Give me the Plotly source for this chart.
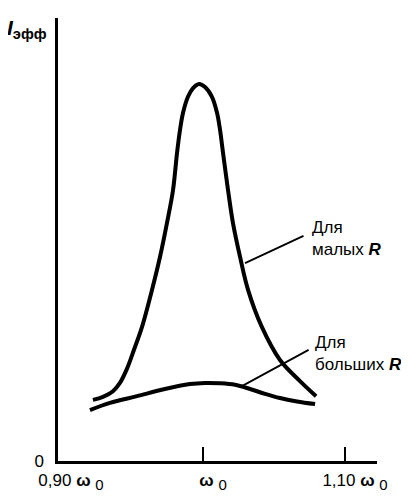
import plotly.graph_objects as go

# Data (omega / omega0, relative effective current)
x_small_R = [0.9225, 0.9296, 0.9366, 0.9415, 0.9465, 0.9514, 0.9570, 0.9641, 0.9697, 0.9746, 0.9789, 0.9817,
             0.9838, 0.9859, 0.9894, 0.9930, 0.9972, 1.0014, 1.0063, 1.0099, 1.0120, 1.0141,
             1.0176, 1.0211, 1.0261, 1.0317, 1.0415, 1.0542, 1.0683, 1.0796]
y_small_R = [0.162, 0.170, 0.185, 0.207, 0.245, 0.295, 0.355, 0.454, 0.541, 0.631, 0.719, 0.817,
             0.878, 0.923, 0.966, 0.989, 1.000, 0.992, 0.966, 0.923, 0.878, 0.817,
             0.719, 0.631, 0.541, 0.454, 0.355, 0.268, 0.212, 0.172]

x_large_R = [0.9204, 0.9345, 0.9535, 0.9732, 0.9908, 1.0014, 1.0120, 1.0225, 1.0331, 1.0437, 1.0542, 1.0662, 1.0789]
y_large_R = [0.135, 0.154, 0.172, 0.191, 0.204, 0.207, 0.206, 0.202, 0.191, 0.178, 0.167, 0.158, 0.151]

SUB0 = "<sub><span style='font-size:15px'>0</span></sub>"
x_tick_vals = [0.90, 1.00, 1.10]
x_tick_text = ["0,90 <b>ω</b> " + SUB0, "<b>ω</b> " + SUB0, "1,10 <b>ω</b> " + SUB0]
y_tick_vals = [0]
y_tick_text = ["0"]

label_small = "Для<br>малых <b><i>R</i></b>"
label_large = "Для<br>больших <b><i>R</i></b>"
y_title = "<b><i>I</i></b><sub><b>эфф</b></sub>"

FONT = "Liberation Sans, Arial, sans-serif"

fig = go.Figure()
fig.add_trace(go.Scatter(x=x_small_R, y=y_small_R, mode="lines",
                         line=dict(color="black", width=4, shape="spline", smoothing=1.0),
                         showlegend=False, hoverinfo="skip"))
fig.add_trace(go.Scatter(x=x_large_R, y=y_large_R, mode="lines",
                         line=dict(color="black", width=4, shape="spline", smoothing=1.0),
                         showlegend=False, hoverinfo="skip"))

# pointer lines
for (hx, hy, tx, ty) in [(1.0296, 0.525, 1.0718, 0.599), (1.0261, 0.196, 1.0754, 0.297)]:
    fig.add_annotation(x=hx, y=hy, ax=tx, ay=ty, axref="x", ayref="y", xref="x", yref="y",
                       text="", showarrow=True, arrowhead=0, arrowwidth=1.8, arrowcolor="black",
                       standoff=0, startstandoff=0)

fig.add_annotation(x=1.0754, y=0.589, xref="x", yref="y", text=label_small, showarrow=False,
                   xanchor="left", yanchor="middle", align="left",
                   font=dict(family=FONT, size=17, color="black"))
fig.add_annotation(x=1.0775, y=0.285, xref="x", yref="y", text=label_large, showarrow=False,
                   xanchor="left", yanchor="middle", align="left",
                   font=dict(family=FONT, size=17, color="black"))
fig.add_annotation(x=0, y=1, xref="paper", yref="paper", xshift=-53, yshift=4, text=y_title, showarrow=False,
                   xanchor="left", yanchor="top", align="left",
                   font=dict(family=FONT, size=21, color="black"))

# page body has an 8px default margin, so the figure is sized/offset to fit the 409x497 window
fig.update_layout(
    width=401, height=489,
    margin=dict(l=50, r=32, t=10, b=36, autoexpand=False),
    paper_bgcolor="white", plot_bgcolor="white",
    font=dict(family=FONT, size=17, color="black"),
    xaxis=dict(range=[0.8979, 1.1225], showgrid=False, zeroline=False, automargin=False,
               showline=True, linecolor="black", linewidth=2.5,
               tickvals=x_tick_vals, ticktext=x_tick_text, ticks="",
               ticklabelshift=10, ticklabelstandoff=2,
               minor=dict(tickvals=[1.00, 1.10], ticks="inside", ticklen=14, tickwidth=2, tickcolor="black"),
               tickfont=dict(family=FONT, size=17, color="black")),
    yaxis=dict(range=[0, 1.175], showgrid=False, zeroline=False, automargin=False,
               showline=True, linecolor="black", linewidth=2.5,
               tickvals=y_tick_vals, ticktext=y_tick_text, ticks="",
               ticklabelstandoff=8,
               tickfont=dict(family=FONT, size=17, color="black")),
)

fig.write_html("out.html")
